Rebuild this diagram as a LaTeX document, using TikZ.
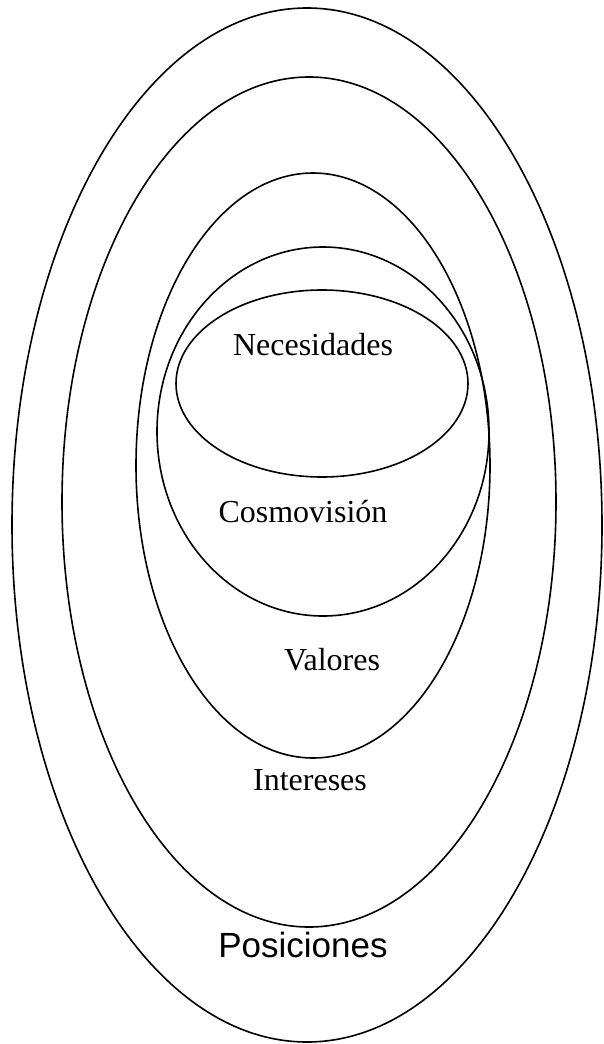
\documentclass[tikz,border=0pt]{standalone}
\usepackage{fontspec}
\setmainfont{Liberation Serif}
\newfontfamily\possans{Liberation Sans}
\begin{document}
\begin{tikzpicture}[x=1pt,y=-1pt,
  ring/.style={draw=black,line width=1.6pt},
  lbl/.style={anchor=base,inner sep=0pt,font=\fontsize{32}{38}\selectfont},
  biglbl/.style={anchor=base,inner sep=0pt,font=\possans\fontsize{35}{42}\selectfont}]
\useasboundingbox[fill=white] (0,0) rectangle (604,1044);
% Posiciones
\draw[ring] (307,525) ellipse [x radius=295pt, y radius=517pt];
% Intereses
\draw[ring] (309,502) ellipse [x radius=247pt, y radius=425pt];
% Valores
\draw[ring] (313,465.5) ellipse [x radius=177pt, y radius=292.5pt];
% Cosmovision
\draw[ring] (323,431.5) ellipse [x radius=166pt, y radius=184.5pt];
% Necesidades
\draw[ring] (322,383.5) ellipse [x radius=146pt, y radius=93.5pt];
\node[lbl] (nec) at (313,355) {Necesidades};
\node[lbl] (cos) at (303,522) {Cosmovisión};
\node[lbl] (val) at (332,670) {Valores};
\node[lbl] (int) at (310,790) {Intereses};
\node[biglbl] (pos) at (303,957) {Posiciones};
\end{tikzpicture}
\end{document}
